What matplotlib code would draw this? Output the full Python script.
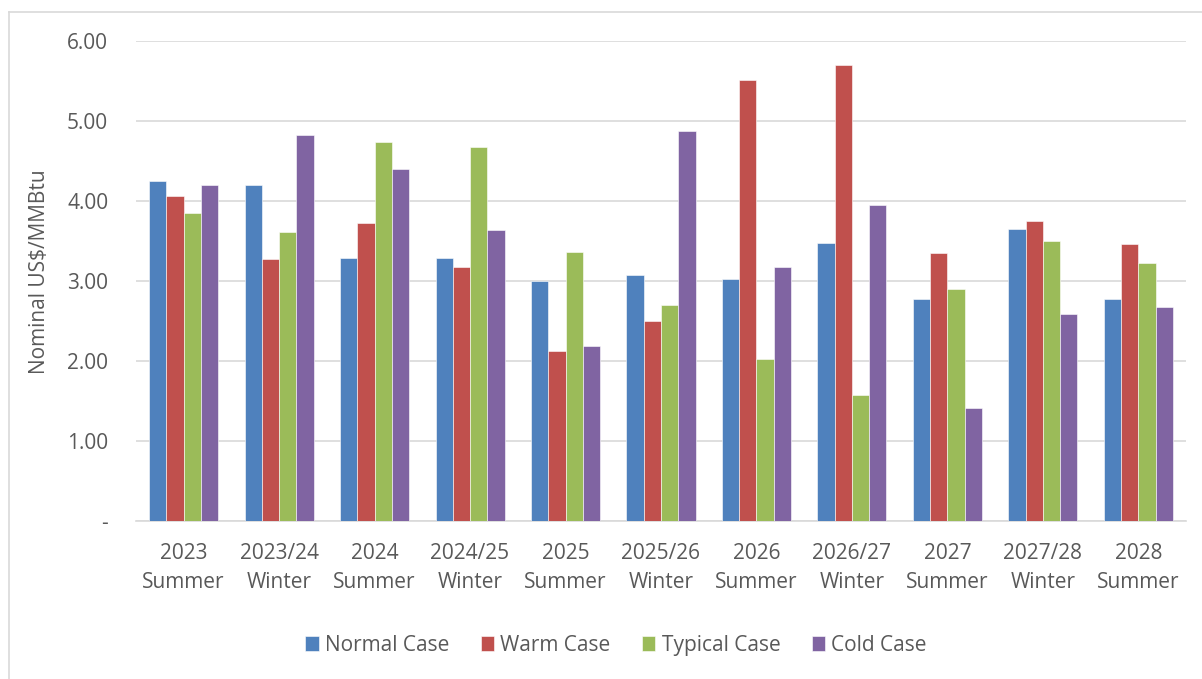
import matplotlib.pyplot as plt
from matplotlib.lines import Line2D
import numpy as np

plt.rcParams['font.family'] = ['Open Sans', 'DejaVu Sans']

periods = ['2023\nSummer', '2023/24\nWinter', '2024\nSummer', '2024/25\nWinter', '2025\nSummer',
           '2025/26\nWinter', '2026\nSummer', '2026/27\nWinter', '2027\nSummer', '2027/28\nWinter',
           '2028\nSummer']
normal = [4.25, 4.20, 3.29, 3.29, 3.00, 3.08, 3.02, 3.48, 2.78, 3.65, 2.78]
warm = [4.06, 3.28, 3.73, 3.18, 2.13, 2.50, 5.51, 5.70, 3.35, 3.75, 3.46]
typical = [3.85, 3.61, 4.74, 4.67, 3.36, 2.70, 2.03, 1.58, 2.90, 3.50, 3.23]
cold = [4.20, 4.83, 4.40, 3.64, 2.19, 4.875, 3.18, 3.95, 1.41, 2.59, 2.68]

series = [('Normal Case', normal, '#4F81BD'),
          ('Warm Case', warm, '#C0504D'),
          ('Typical Case', typical, '#9BBB59'),
          ('Cold Case', cold, '#8064A2')]

fig = plt.figure(figsize=(12.02, 6.79), dpi=100)
ax = fig.add_axes([0.1131, 0.2327, 0.8736, 0.7069])

x = np.arange(len(periods))
w = 0.181
for i, (name, vals, col) in enumerate(series):
    ax.bar(x + (i - 1.5) * w, vals, w, color=col, label=name,
           edgecolor='white', linewidth=0.4, zorder=3)

ax.set_xlim(-0.5, len(periods) - 0.5)
ax.set_ylim(0, 6)
ax.set_yticks(np.arange(0, 7, 1))
ax.set_yticklabels(['-'] + ['%.2f' % v for v in range(1, 7)])
ax.set_xticks(x)
ax.set_xticklabels(periods, linespacing=1.5)
ax.grid(axis='y', color='#D9D9D9', linewidth=1.2, zorder=0)
for s in ['top', 'right', 'left']:
    ax.spines[s].set_visible(False)
ax.spines['bottom'].set_color('#D9D9D9')
ax.spines['bottom'].set_linewidth(1.2)
ax.tick_params(axis='both', length=0, labelsize=15, colors='#595959')
ax.tick_params(axis='x', pad=16)
ax.tick_params(axis='y', pad=20)
ax.set_ylabel('Nominal US$/MMBtu', fontsize=15, color='#595959')
ax.yaxis.set_label_coords(-0.082, 0.52)

fig.legend(loc='center', bbox_to_anchor=(0.5125, 0.05), ncol=4, frameon=False,
           fontsize=15, labelcolor='#595959', handlelength=0.65, handleheight=0.7,
           handletextpad=0.3, columnspacing=1.5)

# chart border (left and top)
fig.add_artist(Line2D([0.0075, 0.0075], [0, 0.982], color='#D9D9D9', linewidth=1.2))
fig.add_artist(Line2D([0.0075, 1.0], [0.982, 0.982], color='#D9D9D9', linewidth=1.2))

fig.savefig('out.png', dpi=100)
